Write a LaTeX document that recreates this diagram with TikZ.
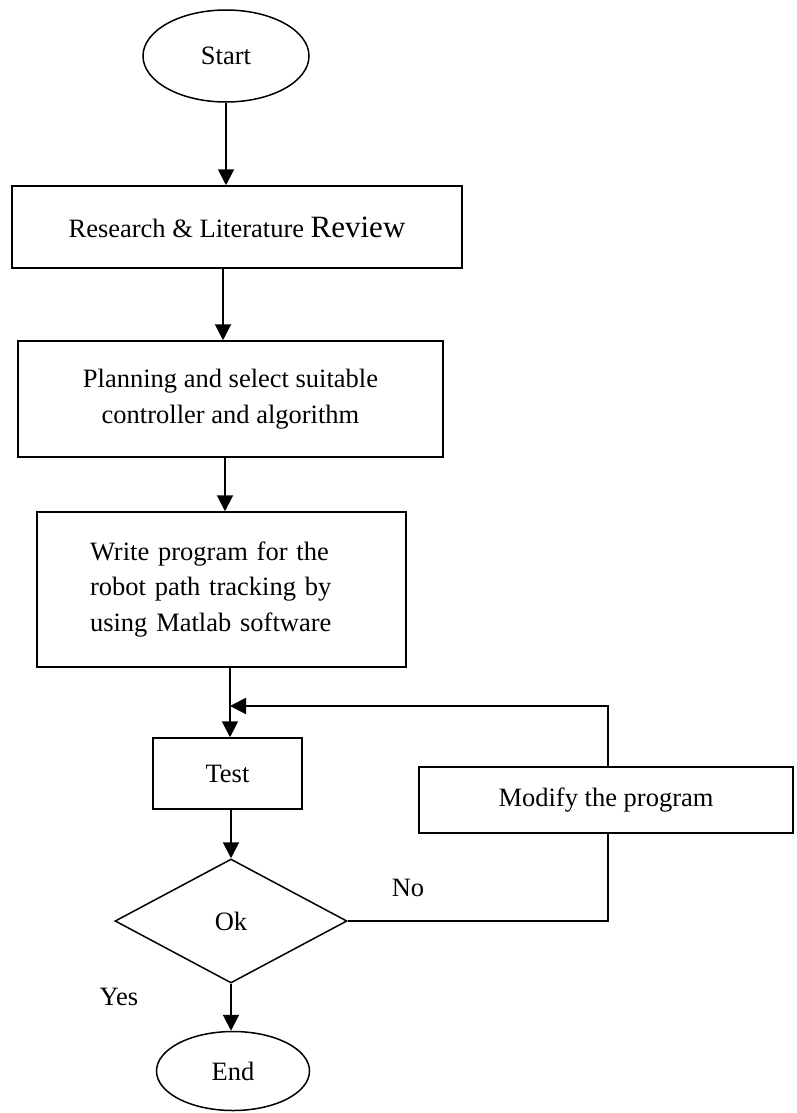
\documentclass[tikz,border=0pt]{standalone}
\usepackage{fontspec}
\setmainfont{Liberation Serif}
\usetikzlibrary{arrows.meta,shapes.geometric}
\begin{document}
\begin{tikzpicture}[x=1pt,y=-1pt,
  every node/.style={font=\fontsize{26.5}{35.5}\selectfont},
  box/.style={draw, line width=1.5pt, inner sep=0pt, align=center},
  term/.style={draw, ellipse, line width=1.5pt, inner sep=0pt},
  arr/.style={line width=2pt, -{Triangle[length=16pt,width=16pt]}},
  ln/.style={line width=1.5pt}]
\useasboundingbox (0,0) rectangle (796,1113);
\node[term, minimum width=166pt, minimum height=92pt] (start) at (226,56) {Start};
\node[box, minimum width=450pt, minimum height=82pt] (b1) at (237,227) {Research \& Literature {\fontsize{31}{36}\selectfont Review}};
\node[box, minimum width=425pt, minimum height=116pt] (b2) at (230.5,399) {Planning and select suitable\\controller and algorithm};
\node[box, minimum width=369pt, minimum height=155pt, align=left, text width=263pt, inner xsep=53pt] (b3) at (221.5,589.5) {Write program for the\\robot path tracking by\\using Matlab software};
\node[box, minimum width=149pt, minimum height=71pt] (test) at (227.5,773.5) {Test};
\node[draw, diamond, line width=1.5pt, minimum width=232pt, minimum height=124pt, inner sep=0pt] (ok) at (231,921) {Ok};
\node[term, minimum width=153pt, minimum height=79pt] (end) at (233,1071) {End};
\node[box, minimum width=374pt, minimum height=66pt] (mod) at (606,800) {Modify the program};
\node (no) at (408,888) {No};
\node (yes) at (119,997) {Yes};
\coordinate (fb) at (230,706);
\draw[arr] (start.south) -- (start.south |- b1.north);
\draw[arr] ([xshift=-14pt]b1.south) -- ([xshift=-14pt]b1.south |- b2.north);
\draw[arr] ([xshift=-5.5pt]b2.south) -- ([xshift=-5.5pt]b2.south |- b3.north);
\draw[arr] ([xshift=2.5pt]test.north |- b3.south) -- ([xshift=2.5pt]test.north);
\draw[arr] ([xshift=2pt]mod.north) |- (fb);
\draw[arr] (test.south -| ok.north) -- (ok.north);
\draw[ln] (ok.east) -| ([xshift=2pt]mod.south);
\draw[arr] (ok.south) -- (ok.south |- end.north);
\end{tikzpicture}
\end{document}
